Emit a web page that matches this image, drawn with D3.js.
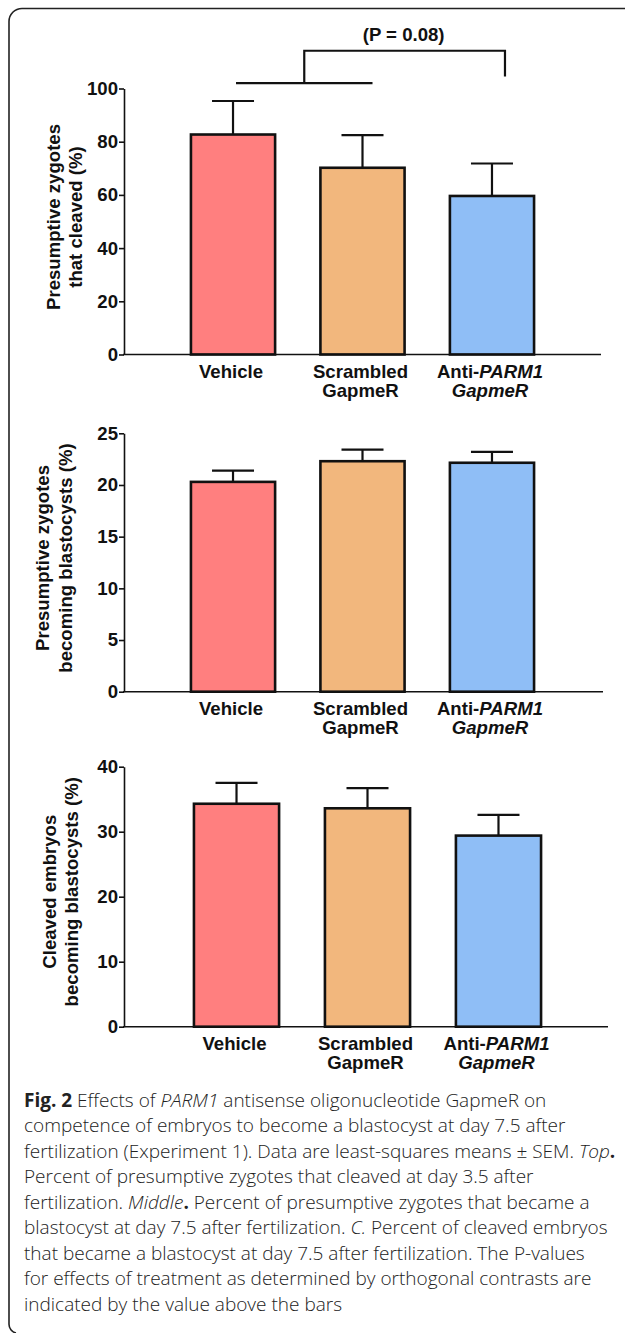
<!DOCTYPE html>
<html>
<head>
<meta charset="utf-8">
<script src="https://cdn.jsdelivr.net/npm/d3@7/dist/d3.min.js"></script>
<style>
  html, body { margin: 0; padding: 0; background: #fff; }
  svg { display: block; }
  .lab { font-family: "Liberation Sans", Arial, sans-serif; font-weight: bold; fill: #111; }
  .cap { font-family: "Open Sans", "Noto Sans", sans-serif; font-weight: 300; fill: #222; }
</style>
</head>
<body>
<svg id="chart" width="625" height="1333"></svg>
<script>
// ---------------- data ----------------
const categories = ["Vehicle", "Scrambled GapmeR", "Anti-PARM1 GapmeR"];
const cleavedMeans = [82.7, 70.2, 59.6];
const cleavedSEM = [12.6, 12.3, 12.2];
const zygoteBlastMeans = [20.3, 22.3, 22.15];
const zygoteBlastSEM = [1.08, 1.13, 1.06];
const cleavedBlastMeans = [34.3, 33.6, 29.4];
const cleavedBlastSEM = [3.2, 3.1, 3.2];
const ticksTop = [0, 20, 40, 60, 80, 100];
const ticksMiddle = [0, 5, 10, 15, 20, 25];
const ticksBottom = [0, 10, 20, 30, 40];
const barColors = ["#FF7F7F", "#F2B77D", "#8FBEF6"];
const pLabel = "(P = 0.08)";
const captionLines = [
  [["b","Fig. 2"],["n"," Effects of "],["i","PARM1"],["n"," antisense oligonucleotide GapmeR on"]],
  [["n","competence of embryos to become a blastocyst at day 7.5 after"]],
  [["n","fertilization (Experiment 1). Data are least-squares means ± SEM. "],["i","Top"],["b","."]],
  [["n","Percent of presumptive zygotes that cleaved at day 3.5 after"]],
  [["n","fertilization. "],["i","Middle"],["b","."],["n"," Percent of presumptive zygotes that became a"]],
  [["n","blastocyst at day 7.5 after fertilization. "],["i","C."],["n"," Percent of cleaved embryos"]],
  [["n","that became a blastocyst at day 7.5 after fertilization. The P-values"]],
  [["n","for effects of treatment as determined by orthogonal contrasts are"]],
  [["n","indicated by the value above the bars"]]
];

// ---------------- layout ----------------
const panels = [
  { means: cleavedMeans, sem: cleavedSEM, ticks: ticksTop, max: 100,
    y0: 354.5, y1: 88.5, band: [124, 601], po: 0.517, axisEnd: 601,
    title: ["Presumptive zygotes", "that cleaved (%)"], titleX: [60, 82], titleY: 217, bracket: true },
  { means: zygoteBlastMeans, sem: zygoteBlastSEM, ticks: ticksMiddle, max: 25,
    y0: 691.7, y1: 433.3, band: [124, 601], po: 0.517, axisEnd: 603,
    title: ["Presumptive zygotes", "becoming blastocysts (%)"], titleX: [49, 71.5], titleY: 558 },
  { means: cleavedBlastMeans, sem: cleavedBlastSEM, ticks: ticksBottom, max: 40,
    y0: 1026.7, y1: 766.7, band: [124, 611], po: 0.534, axisEnd: 608,
    title: ["Cleaved embryos", "becoming blastocysts (%)"], titleX: [56, 78], titleY: 891.7 }
];
const axisX = 124;
const FS = 18.6;

const svg = d3.select("#chart");
svg.append("rect").attr("width", 625).attr("height", 1333).attr("fill", "#fff");

// frame
svg.append("path")
  .attr("d", "M626,8.5 H22 A13,13 0 0 0 9,21.5 V1324 A9,9 0 0 0 16,1333")
  .attr("fill", "none").attr("stroke", "#222").attr("stroke-width", 1.6);

panels.forEach(p => {
  const g = svg.append("g");
  const y = d3.scaleLinear().domain([0, p.max]).range([p.y0, p.y1]);
  const x = d3.scaleBand().domain(categories).range(p.band).paddingInner(0.35).paddingOuter(p.po);
  const bw = x.bandwidth();
  const cx = c => x(c) + bw / 2;

  // bars
  g.selectAll("rect.bar").data(categories).join("rect")
    .attr("class", "bar")
    .attr("x", c => x(c)).attr("width", bw)
    .attr("y", (c, i) => y(p.means[i])).attr("height", (c, i) => y(0) - y(p.means[i]))
    .attr("fill", (c, i) => barColors[i])
    .attr("stroke", "#111").attr("stroke-width", 2.6);

  // error bars (upper only)
  g.selectAll("line.err").data(categories).join("line")
    .attr("x1", cx).attr("x2", cx)
    .attr("y1", (c, i) => y(p.means[i])).attr("y2", (c, i) => y(p.means[i] + p.sem[i]))
    .attr("stroke", "#111").attr("stroke-width", 2.2);
  g.selectAll("line.cap").data(categories).join("line")
    .attr("x1", c => cx(c) - 21).attr("x2", c => cx(c) + 21)
    .attr("y1", (c, i) => y(p.means[i] + p.sem[i])).attr("y2", (c, i) => y(p.means[i] + p.sem[i]))
    .attr("stroke", "#111").attr("stroke-width", 2.2);

  // y axis
  const ya = g.append("g").attr("transform", `translate(${axisX},0)`)
    .call(d3.axisLeft(y).tickValues(p.ticks).tickSize(5).tickPadding(1).tickSizeOuter(0));
  ya.select(".domain").attr("stroke", "#111").attr("stroke-width", 1.6);
  ya.selectAll(".tick line").attr("stroke", "#111").attr("stroke-width", 1.6);
  ya.selectAll(".tick text").attr("class", "lab").style("font-size", FS + "px").attr("fill", "#111");

  // x axis line
  g.append("line").attr("x1", axisX - 1).attr("x2", p.axisEnd)
    .attr("y1", y(0)).attr("y2", y(0)).attr("stroke", "#111").attr("stroke-width", 1.6);

  // x labels
  categories.forEach((c, i) => {
    const t = g.append("text").attr("class", "lab").style("font-size", FS + "px")
      .attr("text-anchor", "middle").attr("x", cx(c) - 2).attr("y", y(0) + 23);
    if (i === 0) {
      t.text("Vehicle");
    } else if (i === 1) {
      t.append("tspan").attr("x", cx(c) - 2).text("Scrambled");
      t.append("tspan").attr("x", cx(c) - 2).attr("dy", 19.5).text("GapmeR");
    } else {
      const l1 = t.append("tspan").attr("x", cx(c) - 2);
      l1.append("tspan").text("Anti-");
      l1.append("tspan").attr("font-style", "italic").text("PARM1");
      t.append("tspan").attr("x", cx(c) - 2).attr("dy", 19.5).attr("font-style", "italic").text("GapmeR");
    }
  });

  // y title
  p.title.forEach((line, k) => {
    g.append("text").attr("class", "lab").style("font-size", FS + "px")
      .attr("text-anchor", "middle")
      .attr("transform", `translate(${p.titleX[k]},${p.titleY}) rotate(-90)`)
      .text(line);
  });

  // significance bracket
  if (p.bracket) {
    const lowL = cx(categories[0]) + 3, lowR = cx(categories[1]) + 10;
    const mid = (lowL + lowR) / 2, right = cx(categories[2]) + 13;
    const yLow = y(102), yTop = y(114.2), yRightEnd = y(104.5);
    g.append("path")
      .attr("d", `M${lowL},${yLow} H${lowR} M${mid},${yLow} V${yTop} H${right} V${yRightEnd}`)
      .attr("stroke", "#111").attr("stroke-width", 2.2).attr("fill", "none");
    g.append("text").attr("class", "lab").style("font-size", FS + "px")
      .attr("text-anchor", "middle").attr("x", (mid + right) / 2 - 1).attr("y", 41)
      .text(pLabel);
  }
});

// caption
const capG = svg.append("g");
captionLines.forEach((parts, i) => {
  const t = capG.append("text").attr("class", "cap").style("font-size", "19px")
    .attr("x", 24).attr("y", 1106.5 + i * 25.55);
  parts.forEach(([s, str]) => {
    const ts = t.append("tspan").text(str);
    if (s === "b") ts.attr("font-weight", "bold");
    if (s === "i") ts.attr("font-style", "italic");
  });
});
</script>
</body>
</html>
